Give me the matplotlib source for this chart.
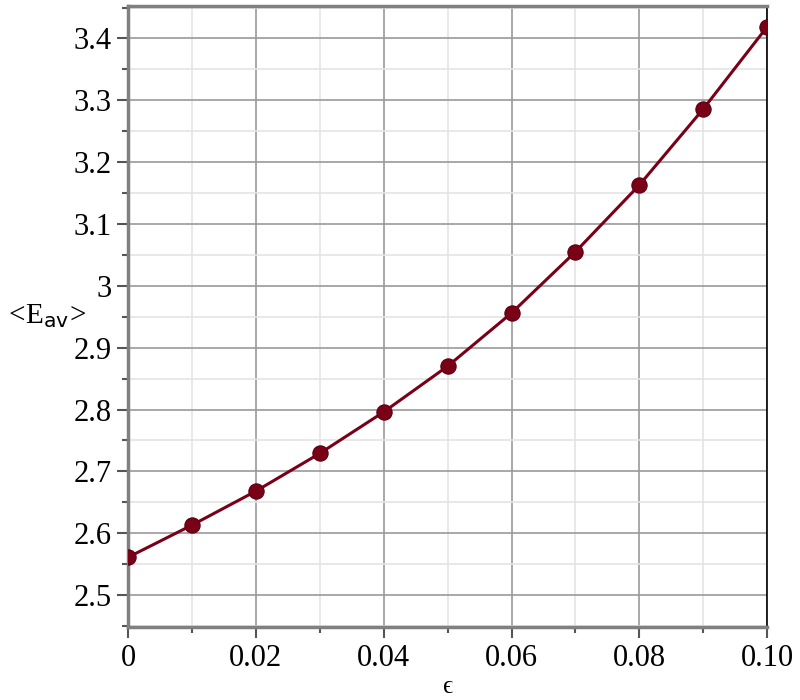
import numpy as np
import matplotlib.pyplot as plt
from matplotlib.ticker import MultipleLocator

plt.rcParams['font.family'] = ['Liberation Serif', 'DejaVu Serif']
plt.rcParams['mathtext.fontset'] = 'custom'
plt.rcParams['mathtext.rm'] = 'Liberation Serif'
plt.rcParams['mathtext.it'] = 'Liberation Serif:italic'
plt.rcParams['mathtext.sf'] = 'DejaVu Sans'

# data
eps = [0.0, 0.01, 0.02, 0.03, 0.04, 0.05, 0.06, 0.07, 0.08, 0.09, 0.10]
e_av = [2.561, 2.613, 2.668, 2.729, 2.796, 2.870, 2.956, 3.055, 3.163, 3.286, 3.419]

x_ticks = [0, 0.02, 0.04, 0.06, 0.08, 0.10]
x_labels = ['0', '0.02', '0.04', '0.06', '0.08', '0.10']
y_ticks = [2.5, 2.6, 2.7, 2.8, 2.9, 3.0, 3.1, 3.2, 3.3, 3.4]
y_labels = ['2.5', '2.6', '2.7', '2.8', '2.9', '3', '3.1', '3.2', '3.3', '3.4']

line_col = '#7a0018'

fig = plt.figure(figsize=(8, 7), dpi=100)
ax = fig.add_axes([0.16, 0.104, 0.799, 0.887])

ax.plot(eps, e_av, color=line_col, lw=2.2, zorder=3)
ax.plot(eps, e_av, 'o', ms=11, color=line_col, mec='#5a0010', mew=0.8, zorder=4)

ax.set_xlim(0, 0.1)
ax.set_ylim(2.448, 3.452)
ax.set_xticks(x_ticks)
ax.set_xticklabels(x_labels)
ax.set_yticks(y_ticks)
ax.set_yticklabels(y_labels)
ax.xaxis.set_minor_locator(MultipleLocator(0.01))
ax.yaxis.set_minor_locator(MultipleLocator(0.05))

ax.grid(which='major', color='#999999', lw=1.2)
ax.grid(which='minor', color='#e4e4e4', lw=1.2)
ax.set_axisbelow(True)

ax.tick_params(which='major', length=8, width=1.5, color='#555555', labelsize=22, pad=4)
ax.tick_params(which='minor', length=4, width=1.5, color='#555555')

for side in ['left', 'bottom', 'top']:
    ax.spines[side].set_color('#808080')
    ax.spines[side].set_linewidth(2.5)
ax.spines['right'].set_color('black')
ax.spines['right'].set_linewidth(1.2)

ax.set_xlabel('ϵ', fontsize=18, labelpad=2)
ax.set_ylabel(r'$<\!\mathrm{E}_{\mathsf{av}}\!>$', fontsize=21, rotation=0, labelpad=20, va='center')

fig.savefig('out.png', dpi=100)
